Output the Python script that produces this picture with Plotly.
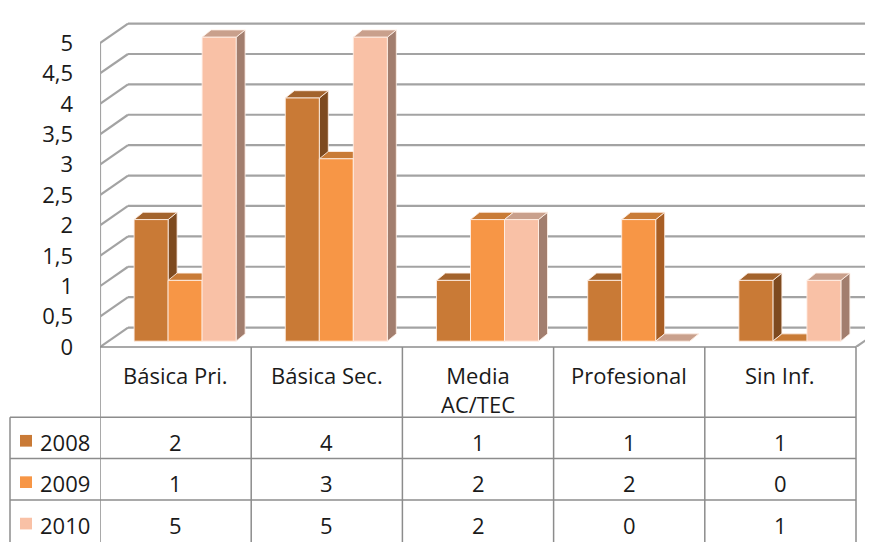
import plotly.graph_objects as go

# ---------------- data ----------------
categories = ["Básica Pri.", "Básica Sec.", "Media<br>AC/TEC", "Profesional", "Sin Inf."]
series_names = ["2008", "2009", "2010"]
values_2008 = [2, 4, 1, 1, 1]
values_2009 = [1, 3, 2, 2, 0]
values_2010 = [5, 5, 2, 0, 1]
y_tick_values = [0, 0.5, 1, 1.5, 2, 2.5, 3, 3.5, 4, 4.5, 5]

series_values = [values_2008, values_2009, values_2010]

# ---------------- styles ----------------
front_colors = ["#C97A36", "#F79646", "#F9C1A6"]
side_colors = ["#7E4A1F", "#A85E24", "#A27E6E"]
top_colors = ["#A3632C", "#C97B36", "#C9A08C"]
grid_color = "#A3A3A3"
table_color = "#8C8C8C"
FONT = "Open Sans"
FS = 22
TXT = "#1a1a1a"

W, H = 873, 542
PAGE_DX = 8        # horizontal page offset of the figure on screen
X0_PX = 100.0      # screen pixel of category axis start
CAT_PX = 151.2     # pixels per category
Y0_PX = 348.0      # pixel of value 0 (front)
UNIT_PX = 62.4     # pixels per value unit

def dxu(px):
    return px / CAT_PX

def dyu(px):
    return px / UNIT_PX

def py(p):  # pixel y -> paper y
    return 1 - p / H

def pxp(p):  # screen pixel x -> paper x
    return (p - PAGE_DX) / W

x_max = (W + PAGE_DX - X0_PX) / CAT_PX
y_max = Y0_PX / UNIT_PX
y_top = max(y_tick_values)

# wall depth
WDX, WDY = dxu(28), dyu(20)
# bar placement
BW = dxu(34)
BX0, BY0 = dxu(9.5), dyu(6)
BDX, BDY = dxu(9), dyu(7.5)

fig = go.Figure()

n_series = len(series_values)
for i in range(len(categories)):
    start = i + 0.5 - n_series * BW / 2 + BX0
    for j in range(n_series):
        v = series_values[j][i]
        x0 = start + j * BW
        x1 = x0 + BW
        y0 = BY0
        y1 = BY0 + v
        edge = dict(color="rgba(255,240,230,0.85)", width=1)
        # side face
        fig.add_trace(go.Scatter(
            x=[x1, x1 + BDX, x1 + BDX, x1, x1],
            y=[y0, y0 + BDY, y1 + BDY, y1, y0],
            fill="toself", fillcolor=side_colors[j], mode="lines", line=edge,
            hoverinfo="skip", showlegend=False))
        # top face
        fig.add_trace(go.Scatter(
            x=[x0, x1, x1 + BDX, x0 + BDX, x0],
            y=[y1, y1, y1 + BDY, y1 + BDY, y1],
            fill="toself", fillcolor=top_colors[j], mode="lines", line=edge,
            hoverinfo="skip", showlegend=False))
        # front face
        if v > 0:
            fig.add_trace(go.Scatter(
                x=[x0, x1, x1, x0, x0],
                y=[y0, y0, y1, y1, y0],
                fill="toself", fillcolor=front_colors[j], mode="lines", line=edge,
                hoverinfo="skip", showlegend=False, name=series_names[j]))

shapes = []
gl = dict(color=grid_color, width=2.2)
for v in y_tick_values:
    # back wall gridline
    shapes.append(dict(type="line", xref="x", yref="y", x0=WDX, x1=x_max + 1,
                       y0=v + WDY, y1=v + WDY, line=gl, layer="below"))
    # side wall slanted gridline
    shapes.append(dict(type="line", xref="x", yref="y", x0=0, x1=WDX,
                       y0=v, y1=v + WDY, line=gl, layer="below"))
# front-left edge of side wall
shapes.append(dict(type="line", xref="x", yref="y", x0=0, x1=0, y0=0, y1=y_top,
                   line=gl, layer="below"))
# floor right edge
n_cat = len(categories)
shapes.append(dict(type="line", xref="x", yref="y", x0=n_cat, x1=n_cat + WDX,
                   y0=0, y1=WDY, line=gl, layer="below"))

# ---------------- data table ----------------
tl = dict(color=table_color, width=1.5)
HEADER_TOP, HEADER_BOT = 348, 420
ROW_H = 42.5
row_edges = [HEADER_BOT + k * ROW_H for k in range(len(series_names) + 1)]
TABLE_LEFT_PX = 10

# horizontal lines
shapes.append(dict(type="line", xref="x", yref="paper", x0=0, x1=n_cat,
                   y0=py(HEADER_TOP), y1=py(HEADER_TOP), line=tl))
for r in row_edges[:-1]:
    shapes.append(dict(type="line", xref="paper", yref="paper",
                       x0=pxp(TABLE_LEFT_PX), x1=pxp(X0_PX + n_cat * CAT_PX),
                       y0=py(r), y1=py(r), line=tl))
# vertical lines
for k in range(n_cat + 1):
    shapes.append(dict(type="line", xref="x", yref="paper", x0=k, x1=k,
                       y0=py(HEADER_TOP), y1=py(H + 10), line=tl))
shapes.append(dict(type="line", xref="paper", yref="paper",
                   x0=pxp(TABLE_LEFT_PX), x1=pxp(TABLE_LEFT_PX),
                   y0=py(HEADER_BOT), y1=py(H + 10), line=tl))

annotations = []
for i, c in enumerate(categories):
    annotations.append(dict(x=i + 0.5, xref="x", y=py(HEADER_TOP + 11), yref="paper",
                            text=c, showarrow=False, yanchor="top", xanchor="center",
                            font=dict(family=FONT, size=FS, color=TXT)))
for j, name in enumerate(series_names):
    yc = (row_edges[j] + row_edges[j + 1]) / 2 + 4
    shapes.append(dict(type="rect", xref="paper", yref="paper",
                       x0=pxp(20), x1=pxp(32), y0=py(yc + 5), y1=py(yc - 7),
                       fillcolor=front_colors[j], line=dict(width=0)))
    annotations.append(dict(x=pxp(38), xref="paper", y=py(yc), yref="paper",
                            text=name, showarrow=False, xanchor="left", yanchor="middle",
                            font=dict(family=FONT, size=FS, color=TXT)))
    for i in range(n_cat):
        annotations.append(dict(x=i + 0.5, xref="x", y=py(yc), yref="paper",
                                text=str(series_values[j][i]), showarrow=False,
                                xanchor="center", yanchor="middle",
                                font=dict(family=FONT, size=FS, color=TXT)))

fig.update_layout(
    width=W, height=H,
    margin=dict(l=0, r=0, t=0, b=0),
    paper_bgcolor="white", plot_bgcolor="white",
    separators=",.",
    showlegend=False,
    font=dict(family=FONT, size=FS, color=TXT),
    xaxis=dict(domain=[pxp(X0_PX), 1], range=[0, x_max], showgrid=False,
               zeroline=False, showticklabels=False, showline=False, fixedrange=True),
    yaxis=dict(domain=[py(Y0_PX), 1], range=[0, y_max], showgrid=False,
               zeroline=False, showline=False, tickvals=y_tick_values, ticks="",
               ticklabelstandoff=26, tickfont=dict(family=FONT, size=FS, color=TXT),
               fixedrange=True),
    shapes=shapes,
    annotations=annotations,
)

fig.write_html("out.html")
